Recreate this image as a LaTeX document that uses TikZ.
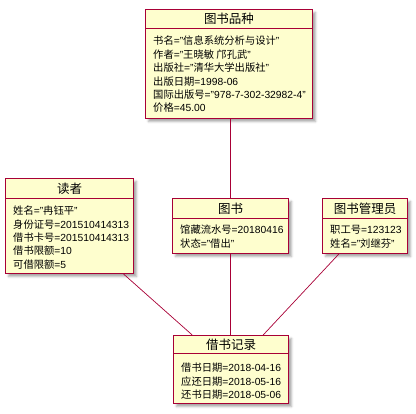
\documentclass[tikz,border=0pt]{standalone}
\usepackage{fontspec}
\setmainfont{Liberation Sans}
\newfontfamily\cjk{Noto Sans CJK SC}
\newcommand{\zh}[1]{{\cjk #1}}
\usetikzlibrary{shadows.blur}
\definecolor{umlfill}{HTML}{FEFECE}
\definecolor{umlline}{HTML}{A80036}
\tikzset{
  objbox/.style={draw=umlline, fill=umlfill, line width=1pt, anchor=north west, inner sep=0pt,
    blur shadow={shadow xshift=3pt, shadow yshift=-3pt, shadow blur steps=4, shadow opacity=35}},
  divider/.style={draw=umlline, line width=1pt},
  objtitle/.style={font=\fontsize{12.5}{15}\selectfont\cjk, inner sep=0pt},
  attr/.style={font=\fontsize{10.3}{12}\selectfont, anchor=west, inner sep=0pt},
  link/.style={draw=umlline, line width=0.7pt},
}
\begin{document}
\begin{tikzpicture}[x=1pt,y=-1pt]
\useasboundingbox (0,0) rectangle (416,414);

% 图书品种
\node[objbox, minimum width=167pt, minimum height=109pt] (pz) at (145,9) {};
\draw[divider] ([yshift=-20pt]pz.north west) -- ([yshift=-20pt]pz.north east);
\node[objtitle] (pzt) at ([yshift=-10pt]pz.north) {图书品种};
\node[attr] (pz1) at ([xshift=8pt,yshift=-32pt]pz.north west) {\zh{书名}="\zh{信息系统分析与设计}"};
\node[attr] (pz2) at ([xshift=8pt,yshift=-45.4pt]pz.north west) {\zh{作者}="\zh{王晓敏 邝孔武}"};
\node[attr] (pz3) at ([xshift=8pt,yshift=-58.8pt]pz.north west) {\zh{出版社}="\zh{清华大学出版社}"};
\node[attr] (pz4) at ([xshift=8pt,yshift=-72.2pt]pz.north west) {\zh{出版日期}=1998-06};
\node[attr] (pz5) at ([xshift=8pt,yshift=-85.6pt]pz.north west) {\zh{国际出版号}="978-7-302-32982-4"};
\node[attr] (pz6) at ([xshift=8pt,yshift=-99pt]pz.north west) {\zh{价格}=45.00};

% 读者
\node[objbox, minimum width=128pt, minimum height=95pt] (dz) at (5,178) {};
\draw[divider] ([yshift=-21pt]dz.north west) -- ([yshift=-21pt]dz.north east);
\node[objtitle] (dzt) at ([yshift=-10.5pt]dz.north) {读者};
\node[attr] (dz1) at ([xshift=8pt,yshift=-33pt]dz.north west) {\zh{姓名}="\zh{冉钰平}"};
\node[attr] (dz2) at ([xshift=8pt,yshift=-46.3pt]dz.north west) {\zh{身份证号}=201510414313};
\node[attr] (dz3) at ([xshift=8pt,yshift=-59.6pt]dz.north west) {\zh{借书卡号}=201510414313};
\node[attr] (dz4) at ([xshift=8pt,yshift=-72.9pt]dz.north west) {\zh{借书限额}=10};
\node[attr] (dz5) at ([xshift=8pt,yshift=-86.2pt]dz.north west) {\zh{可借限额}=5};

% 图书
\node[objbox, minimum width=116pt, minimum height=55pt] (ts) at (172,198) {};
\draw[divider] ([yshift=-21pt]ts.north west) -- ([yshift=-21pt]ts.north east);
\node[objtitle] (tst) at ([yshift=-10.5pt]ts.north) {图书};
\node[attr] (ts1) at ([xshift=8pt,yshift=-32pt]ts.north west) {\zh{馆藏流水号}=20180416};
\node[attr] (ts2) at ([xshift=8pt,yshift=-45.5pt]ts.north west) {\zh{状态}="\zh{借出}"};

% 图书管理员
\node[objbox, minimum width=85pt, minimum height=55pt] (gl) at (322,198) {};
\draw[divider] ([yshift=-21pt]gl.north west) -- ([yshift=-21pt]gl.north east);
\node[objtitle] (glt) at ([yshift=-10.5pt]gl.north) {图书管理员};
\node[attr] (gl1) at ([xshift=8pt,yshift=-32pt]gl.north west) {\zh{职工号}=123123};
\node[attr] (gl2) at ([xshift=8pt,yshift=-45.5pt]gl.north west) {\zh{姓名}="\zh{刘继芬}"};

% 借书记录
\node[objbox, minimum width=115pt, minimum height=68pt] (jl) at (173,335) {};
\draw[divider] ([yshift=-19pt]jl.north west) -- ([yshift=-19pt]jl.north east);
\node[objtitle] (jlt) at ([yshift=-9.5pt]jl.north) {借书记录};
\node[attr] (jl1) at ([xshift=8pt,yshift=-33pt]jl.north west) {\zh{借书日期}=2018-04-16};
\node[attr] (jl2) at ([xshift=8pt,yshift=-46.5pt]jl.north west) {\zh{应还日期}=2018-05-16};
\node[attr] (jl3) at ([xshift=8pt,yshift=-60pt]jl.north west) {\zh{还书日期}=2018-05-06};

% connectors
\draw[link] (ts.north |- pz.south) -- (ts.north);
\draw[link] (ts.south) -- (jl.north -| ts.south);
\draw[link] (dz) -- (jl);
\draw[link] (gl) -- (jl);
\end{tikzpicture}
\end{document}
